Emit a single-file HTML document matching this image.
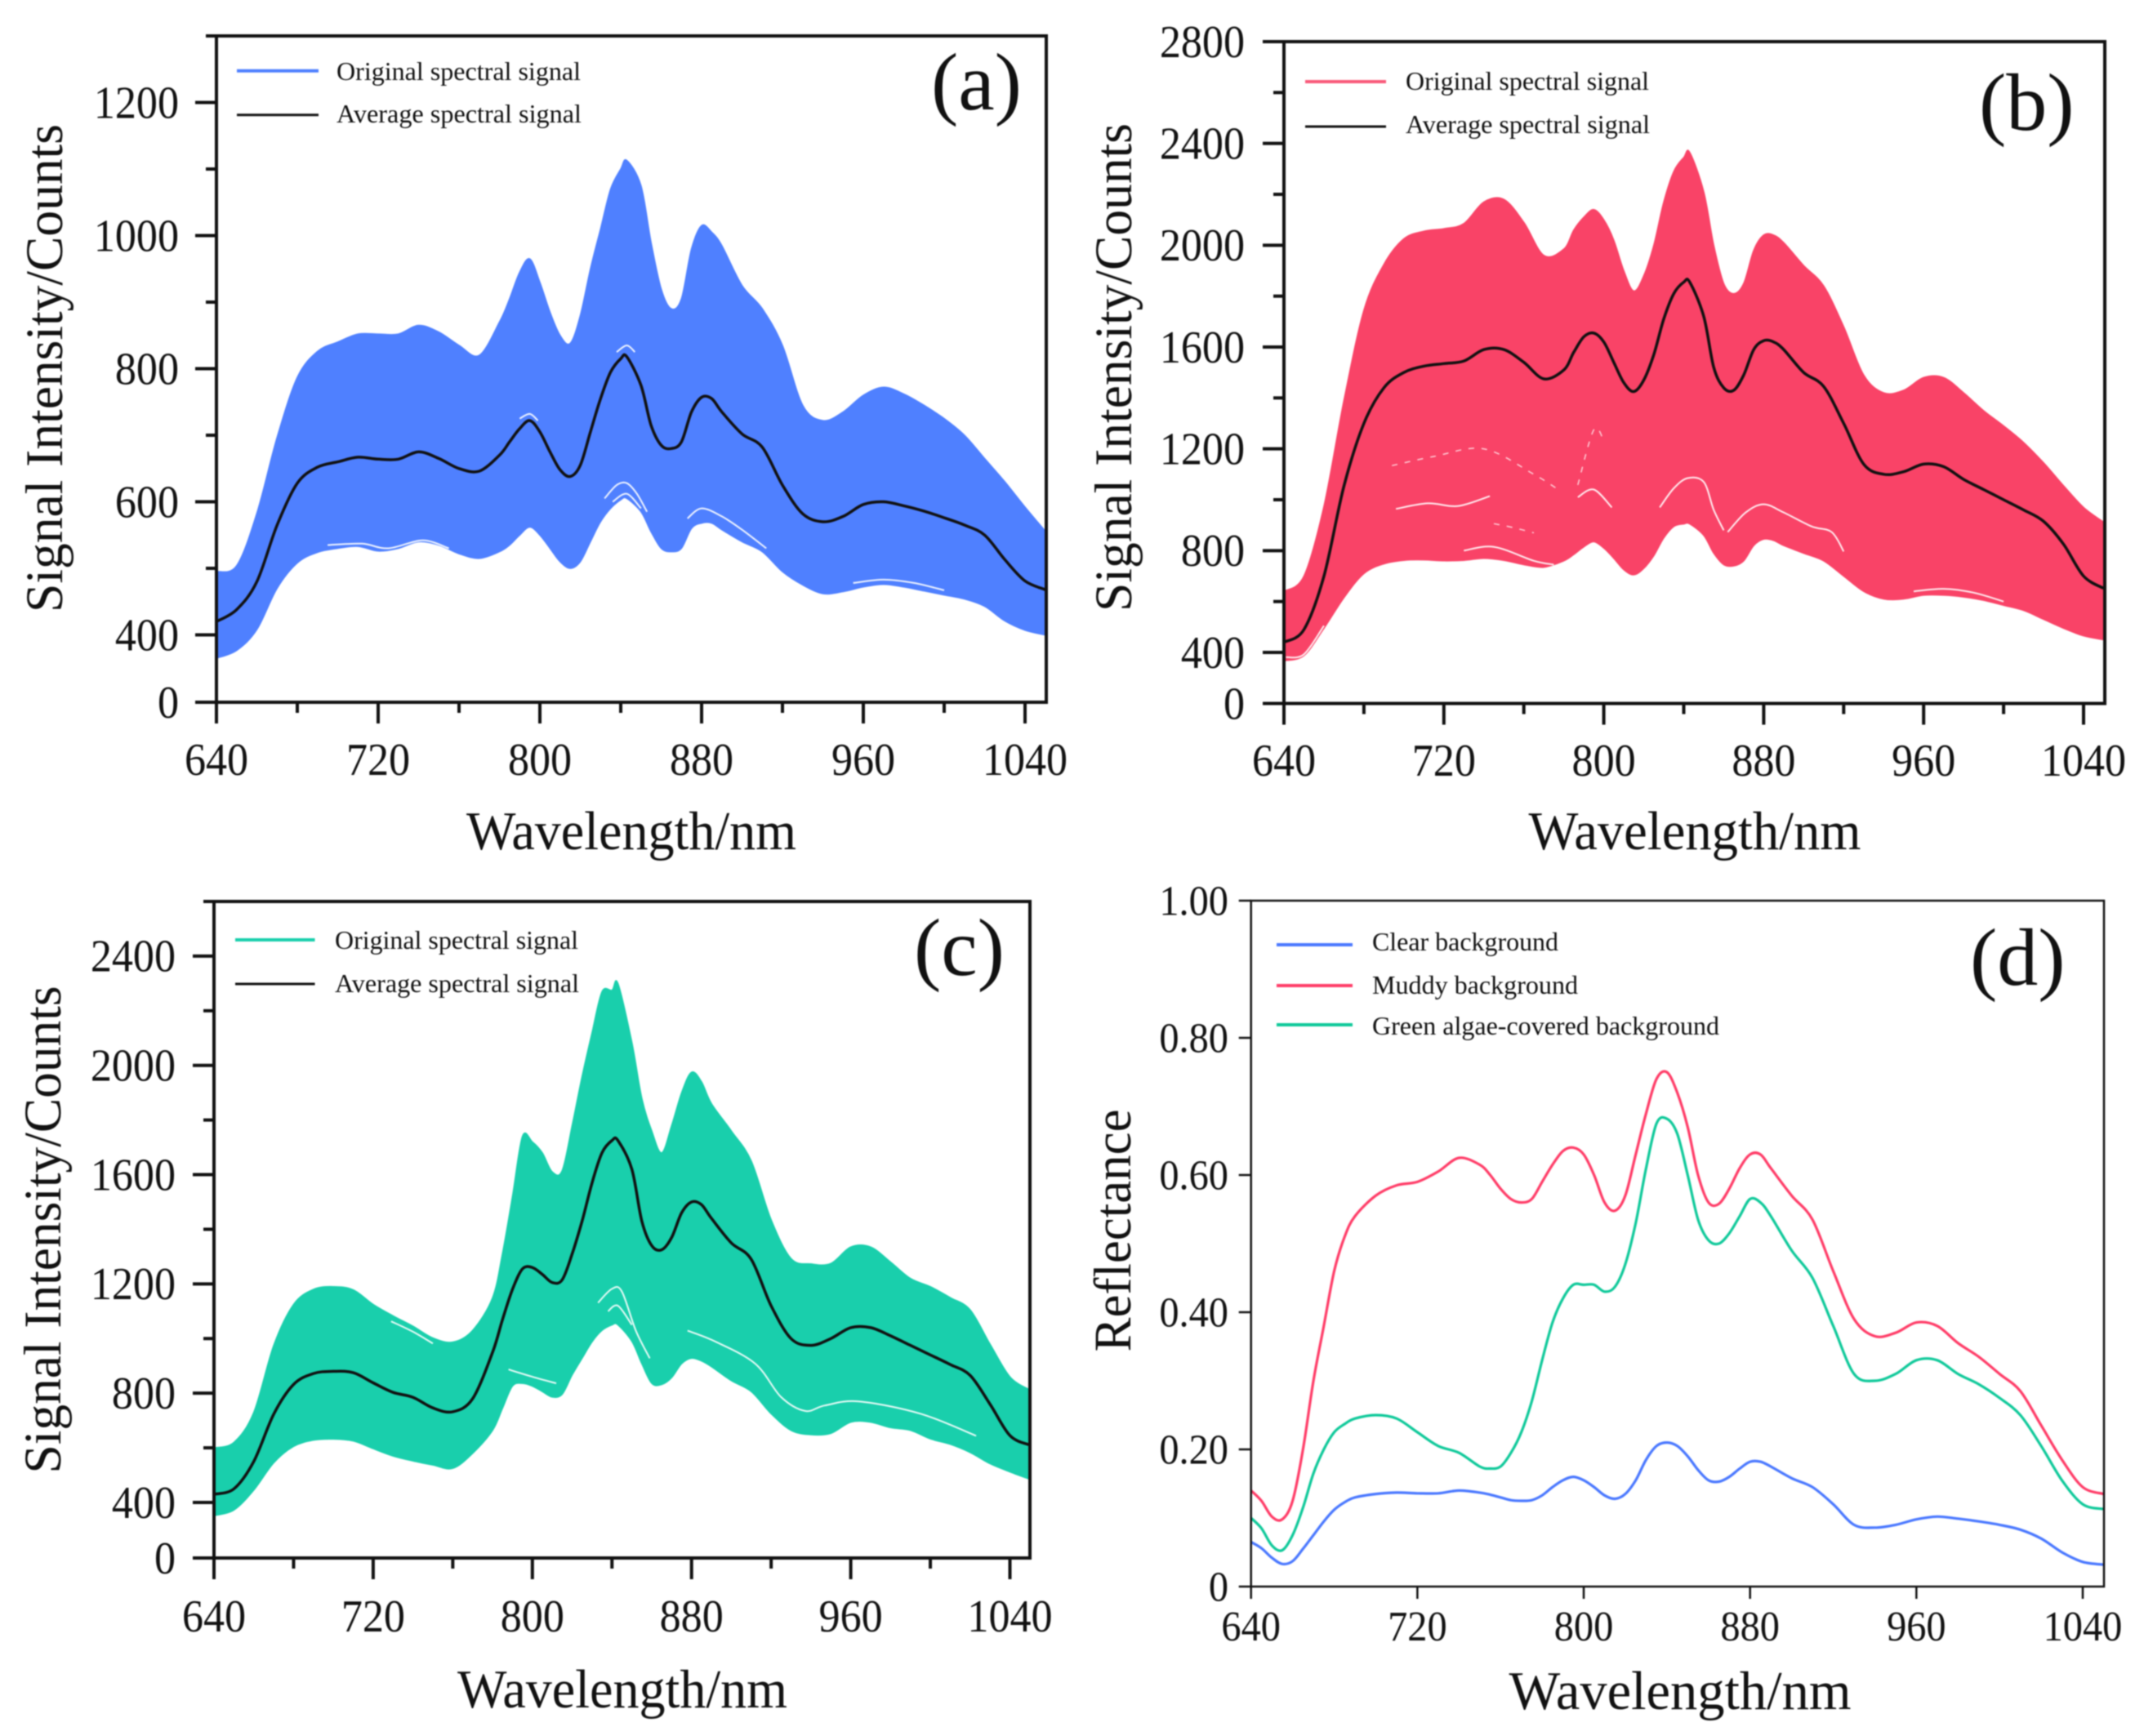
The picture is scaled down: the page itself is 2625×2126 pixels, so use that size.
<!DOCTYPE html>
<html lang="en">
<head>
<meta charset="utf-8">
<title>Spectral signal panels</title>
<style>
html,body{margin:0;padding:0;background:#fff;}
svg{display:block;filter:blur(0.7px);}
text{font-family:"Liberation Serif",serif;fill:#111;}
</style>
</head>
<body>
<svg id="figure" xmlns="http://www.w3.org/2000/svg" width="2625" height="2126" viewBox="0 0 2625 2126">
<rect x="0" y="0" width="2625" height="2126" fill="#fff"/>
</svg>
<script>
// ---------- shared wavelength grids (nm) ----------
const wavelengths = [640,650,660,670,680,690,700,710,720,730,740,750,760,770,780,
 785,790,795,800,805,810,815,820,825,830,835,840,843,
 850,855,860,865,870,875,880,885,890,
 900,910,920,930,940,950,960,970,980,990,1000,1010,1020,1030,1040,1050];
const reflectanceWavelengths = [640,645,650,655,660,665,670,675,680,685,690,
 700,710,720,730,740,750,
 755,760,765,770,775,780,785,790,795,800,805,810,815,820,825,830,835,840,845,850,855,860,865,870,875,880,885,890,
 900,910,920,930,940,950,960,970,980,990,1000,1010,1020,1030,1040,1050];

// ---------- panel (a) ----------
const aUpper = [495,504,583,697,787,826,840,852,852,852,865,855,835,820,870,
 905,945,965,930,885,850,838,880,950,1010,1070,1100,1113,
 1075,990,920,890,905,980,1015,1005,985,
 925,890,835,745,722,735,760,772,762,745,725,700,665,630,592,556];
const aLower = [262,308,408,470,508,524,530,533,526,530,540,535,522,515,525,
 535,550,562,550,530,510,500,510,540,570,590,603,605,
 585,555,530,525,530,560,568,568,558,
 540,525,495,475,462,465,472,476,472,466,460,454,443,421,407,399];
const aMean = [420,438,480,565,628,652,660,667,664,664,675,665,650,646,670,
 690,710,722,705,675,648,638,655,705,755,795,815,818,
 775,715,685,680,690,735,757,755,735,
 702,682,625,582,570,578,596,600,594,586,576,565,550,513,481,468];
const aGaps = [
 {wl:[832,838,843,848,853], v:[605,625,628,612,585]},
 {wl:[836,843,850], v:[600,612,590]},
 {wl:[873,880,890,900,912], v:[575,590,578,558,530]},
 {wl:[695,712,725,742,755], v:[535,537,530,542,530]},
 {wl:[955,970,985,1000], v:[478,483,478,467]},
 {wl:[790,795,799], v:[725,732,722]},
 {wl:[838,843,847], v:[825,835,825]}
];
const aYMajor = [0,400,600,800,1000,1200];
const aYMinor = [500,700,900,1100,1300];

// ---------- panel (b) ----------
const bUpper = [640,700,975,1390,1745,1925,2025,2055,2065,2085,2170,2180,2090,1960,1985,
 2060,2110,2140,2100,2020,1900,1820,1880,2000,2170,2290,2345,2365,
 2210,2000,1850,1810,1850,1980,2040,2040,2010,
 1920,1840,1680,1490,1420,1430,1480,1480,1420,1350,1290,1225,1145,1055,970,912];
const bLower = [335,376,495,615,710,748,762,764,760,762,770,762,745,735,760,
 785,815,835,810,770,725,705,730,780,850,895,905,905,
 860,790,745,740,760,820,845,840,820,
 790,760,700,640,610,610,625,625,618,605,585,565,530,495,465,450];
const bMean = [440,490,700,1053,1300,1440,1500,1525,1535,1545,1590,1590,1540,1475,1510,
 1580,1640,1655,1620,1540,1460,1425,1470,1570,1710,1810,1855,1855,
 1720,1520,1440,1430,1490,1590,1625,1620,1590,
 1500,1445,1300,1140,1100,1110,1140,1130,1080,1040,1000,960,915,825,700,652];
const bGaps = [
 {wl:[696,712,727,743], v:[964,986,975,1014]},
 {wl:[828,835,842,850,855,860], v:[970,1045,1085,1070,960,880]},
 {wl:[862,871,880,890,904,914,920], v:[873,950,982,950,895,873,797]},
 {wl:[955,970,985,1000], v:[640,650,635,600]},
 {wl:[730,745,765,775], v:[800,815,760,745]},
 {wl:[787,795,804], v:[1010,1040,970]},
 {wl:[641,650,660], v:[362,385,505]}
];
const bDashes = [
 {wl:[694,715,740,765,778], v:[1134,1170,1200,1100,1036]},
 {wl:[787,795,800], v:[1058,1275,1232]},
 {wl:[745,755,765], v:[906,890,870]}
];
const bYMajor = [0,400,800,1200,1600,2000,2400,2800];
const bYMinor = [600,1000,1400,1800,2200,2600];

// ---------- panel (c) ----------
const cUpper = [600,620,730,975,1125,1180,1190,1178,1125,1083,1045,1002,987,1030,1150,
 1313,1520,1740,1720,1680,1610,1615,1780,1960,2120,2270,2275,2300,
 2085,1880,1760,1680,1780,1900,1975,1940,1860,
 1760,1650,1435,1293,1273,1275,1335,1335,1280,1220,1190,1150,1105,980,860,812];
const cLower = [305,345,445,545,605,628,632,625,597,570,552,537,525,580,664,
 745,826,836,826,806,786,796,867,928,988,1030,1050,1050,
 990,908,836,832,857,908,928,918,897,
 846,806,725,664,648,653,694,694,674,664,633,613,583,542,512,485];
const cMean = [430,450,550,723,832,872,880,875,838,803,785,746,732,780,950,
 1070,1180,1255,1260,1235,1205,1215,1310,1430,1570,1680,1725,1725,
 1620,1430,1340,1325,1370,1460,1500,1490,1440,
 1350,1290,1120,1000,975,1000,1040,1040,1010,975,940,905,865,760,645,610];
const cGaps = [
 {wl:[833,840,845,852,859], v:[1131,1182,1172,1029,928]},
 {wl:[878,892,912,925,937,947,964,995,1023], v:[1029,989,908,786,735,755,770,725,644]},
 {wl:[788,800,812], v:[887,860,836]},
 {wl:[838,843,850], v:[1100,1120,1050]},
 {wl:[729,740,750], v:[1063,1025,982]}
];
const cYMajor = [0,400,800,1200,1600,2000,2400];
const cYMinor = [600,1000,1400,1800,2200,2600];

// ---------- panel (d) ----------
const dClear = [.065,.056,.042,.033,.037,.055,.075,.095,.112,.123,.13,
 .135,.137,.136,.136,.14,.137,
 .134,.13,.126,.125,.126,.133,.145,.155,.16,.155,.145,.133,.128,.135,.155,.185,.205,.21,.205,.19,.17,.155,.153,.16,.172,.182,.182,.175,
 .158,.145,.12,.09,.086,.09,.098,.102,.099,.095,.09,.083,.07,.05,.036,.032];
const dMuddy = [.14,.125,.102,.098,.125,.2,.3,.38,.46,.51,.54,
 .57,.585,.59,.605,.625,.615,
 .6,.58,.565,.56,.565,.59,.615,.635,.64,.63,.6,.56,.548,.57,.63,.69,.74,.75,.72,.67,.6,.56,.558,.58,.61,.63,.63,.61,
 .57,.535,.46,.39,.365,.37,.385,.38,.355,.335,.31,.285,.235,.185,.145,.135];
const dAlgae = [.10,.085,.06,.053,.075,.115,.165,.2,.225,.237,.245,
 .25,.245,.225,.205,.195,.175,
 .172,.175,.195,.225,.27,.33,.385,.42,.44,.44,.44,.43,.437,.47,.53,.61,.675,.682,.66,.6,.535,.505,.5,.515,.54,.565,.56,.54,
 .49,.45,.38,.31,.3,.31,.33,.33,.31,.295,.275,.25,.205,.155,.12,.113];
const dYMajor = [0,.2,.4,.6,.8,1];
const dYLabels = ['0','0.20','0.40','0.60','0.80','1.00'];

// ---------- shared tick arrays ----------
const xMajor = [640,720,800,880,960,1040];
const xMinor = [680,760,840,920,1000];

const COLORS = {blue:'#4f80ff', red:'#f94367', green:'#19cfac', clearLine:'#4a78ff', muddyLine:'#ff3d68', algaeLine:'#10c99a'};
const svg = document.getElementById('figure');
const NS = 'http://www.w3.org/2000/svg';

function make(parent, tag, attrs, text){
  const el = document.createElementNS(NS, tag);
  for(const k in attrs){ el.setAttribute(k, attrs[k]); }
  if(text !== undefined){ el.textContent = text; }
  parent.appendChild(el);
  return el;
}
function smoothPath(pts, moveFirst){
  let d = (moveFirst ? 'M' : 'L') + pts[0][0].toFixed(1) + ',' + pts[0][1].toFixed(1);
  for(let i=0;i<pts.length-1;i++){
    const p0 = pts[Math.max(0,i-1)], p1 = pts[i], p2 = pts[i+1], p3 = pts[Math.min(pts.length-1,i+2)];
    const c1x = p1[0]+(p2[0]-p0[0])/6, c1y = p1[1]+(p2[1]-p0[1])/6;
    const c2x = p2[0]-(p3[0]-p1[0])/6, c2y = p2[1]-(p3[1]-p1[1])/6;
    d += 'C'+c1x.toFixed(1)+','+c1y.toFixed(1)+' '+c2x.toFixed(1)+','+c2y.toFixed(1)+' '+p2[0].toFixed(1)+','+p2[1].toFixed(1);
  }
  return d;
}
function buildPanel(cfg){
  const g = make(svg,'g',{});
  
  
  const xPerNm = (cfg.x1040 - cfg.x640)/400;
  const xScale = w => cfg.x640 + (w-640)*xPerNm;
  const yScale = cfg.yScale;
  const clipId = 'clip-'+cfg.id;
  const defs = make(g,'defs',{});
  const clip = make(defs,'clipPath',{id:clipId});
  make(clip,'rect',{x:cfg.left,y:cfg.top,width:cfg.right-cfg.left,height:cfg.bottom-cfg.top});
  const plot = make(g,'g',{'clip-path':'url(#'+clipId+')'});
  
  

  // band of original spectra
  if(cfg.upper){
    const up = cfg.wl.map((w,i)=>[xScale(w),yScale(cfg.upper[i])]);
    const lo = cfg.wl.map((w,i)=>[xScale(w),yScale(cfg.lower[i])]).reverse();
    const band = make(plot,'path',{d:smoothPath(up,true)+smoothPath(lo,false)+'Z',fill:cfg.color,stroke:cfg.color,'stroke-width':1.5});
    
    
    (cfg.gaps||[]).forEach(s=>{
      const gap = make(plot,'path',{d:smoothPath(s.wl.map((w,i)=>[xScale(w),yScale(s.v[i])]),true),fill:'none',stroke:'#fff','stroke-width':2,'stroke-opacity':.9});
      
      
    });
    (cfg.dashes||[]).forEach(s=>{
      const dash = make(plot,'path',{d:smoothPath(s.wl.map((w,i)=>[xScale(w),yScale(s.v[i])]),true),fill:'none',stroke:'#fff','stroke-width':1.5,'stroke-dasharray':'7 9','stroke-opacity':.75});
      
      
    });
  }
  // lines
  cfg.lines.forEach(l=>{
    const line = make(plot,'path',{d:smoothPath(cfg.wl.map((w,i)=>[xScale(w),yScale(l.values[i])]),true),fill:'none',stroke:l.color,'stroke-width':l.width,'stroke-linejoin':'round'});
    
    
  });

  // spines
  const sw = cfg.axisWidth;
  const frame = make(g,'rect',{x:cfg.left,y:cfg.top,width:cfg.right-cfg.left,height:cfg.bottom-cfg.top,fill:'none',stroke:'#111','stroke-width':sw});
  
  

  const digitWidth = cfg.tickFont*0.465;
  // ticks
  cfg.yMajor.forEach((v,i)=>{
    const y = yScale(v);
    const t = make(g,'line',{x1:cfg.left-cfg.majorLen,x2:cfg.left,y1:y,y2:y,stroke:'#111','stroke-width':sw});
    
    
    const str = cfg.yLabels ? cfg.yLabels[i] : String(v);
    const lab = make(g,'text',{x:cfg.yLabelRight,y:y+cfg.tickFont*0.335,'text-anchor':'end','font-size':cfg.tickFont,textLength:(str.replace('.','').length+(str.indexOf('.')>=0?0.5:0))*digitWidth,lengthAdjust:'spacingAndGlyphs'}, str);
    
    
  });
  (cfg.yMinor||[]).forEach(v=>{
    const y = yScale(v);
    const t = make(g,'line',{x1:cfg.left-cfg.minorLen,x2:cfg.left,y1:y,y2:y,stroke:'#111','stroke-width':sw});
    
    
  });
  xMajor.forEach(w=>{
    const x = xScale(w);
    const t = make(g,'line',{x1:x,x2:x,y1:cfg.bottom,y2:cfg.bottom+cfg.majorLen,stroke:'#111','stroke-width':sw});
    
    
    const str = String(w);
    const lab = make(g,'text',{x:x,y:cfg.xLabelBase,'text-anchor':'middle','font-size':cfg.tickFont,textLength:str.length*digitWidth,lengthAdjust:'spacingAndGlyphs'}, str);
    
    
  });
  if(cfg.showXMinor){
    xMinor.forEach(w=>{
      const x = xScale(w);
      const t = make(g,'line',{x1:x,x2:x,y1:cfg.bottom,y2:cfg.bottom+cfg.minorLen,stroke:'#111','stroke-width':sw});
      
      
    });
  }

  // axis titles
  const xt = make(g,'text',{x:cfg.xTitle[0],y:cfg.xTitle[1],'text-anchor':'middle','font-size':67,textLength:cfg.xTitle[2],lengthAdjust:'spacingAndGlyphs'},'Wavelength/nm');
  
  
  const yt = make(g,'text',{transform:'translate('+cfg.yTitle[0]+','+cfg.yTitle[1]+') rotate(-90)','text-anchor':'middle','font-size':65,textLength:cfg.yTitle[2],lengthAdjust:'spacingAndGlyphs'},cfg.yTitleText);
  
  

  // panel letter
  const letter = make(g,'text',{x:cfg.letter[0],y:cfg.letter[1],'font-size':100},cfg.letterText);
  
  

  // legend
  cfg.legend.forEach(e=>{
    const row = make(g,'g',{});
    
    
    const sample = make(row,'line',{x1:cfg.legendX[0],x2:cfg.legendX[1],y1:e.y,y2:e.y,stroke:e.color,'stroke-width':e.width});
    
    
    const lab = make(row,'text',{x:cfg.legendX[2],y:e.base,'font-size':32,fill:'#222',textLength:e.len,lengthAdjust:'spacingAndGlyphs'},e.text);
    
    
  });
}
function breakScale(y0,y400,yTopPx,topVal){
  return v => v<=400 ? y0+(y400-y0)*v/400 : y400+(yTopPx-y400)*(v-400)/(topVal-400);
}
const ORIGINAL='Original spectral signal', AVERAGE='Average spectral signal', YSIG='Signal Intensity/Counts';

buildPanel({id:'a',wl:wavelengths,upper:aUpper,lower:aLower,gaps:aGaps,color:COLORS.blue,
  lines:[{values:aMean,color:'#111',width:3.5,name:'average-signal-line-a'}],
  left:265,right:1281,top:44,bottom:860,x640:265,x1040:1255,
  yScale:breakScale(860,777.5,44,1300),yMajor:aYMajor,yMinor:aYMinor,showXMinor:true,
  axisWidth:4,majorLen:26,minorLen:13,tickFont:56,yLabelRight:219,xLabelBase:949,
  xTitle:[773,1040,404],yTitle:[76,451,598],yTitleText:YSIG,letter:[1140,134],letterText:'(a)',
  legendX:[290,390,412],legend:[
   {y:86.7,base:98,color:COLORS.blue,width:4,text:ORIGINAL,len:299},
   {y:140.7,base:150,color:'#111',width:3,text:AVERAGE,len:300}]});

buildPanel({id:'b',wl:wavelengths,upper:bUpper,lower:bLower,gaps:bGaps,dashes:bDashes,color:COLORS.red,
  lines:[{values:bMean,color:'#111',width:3.5,name:'average-signal-line-b'}],
  left:1572,right:2577,top:51,bottom:861.5,x640:1572,x1040:2551,
  yScale:breakScale(861.5,799,51,2800),yMajor:bYMajor,yMinor:bYMinor,showXMinor:true,
  axisWidth:4,majorLen:26,minorLen:13,tickFont:56,yLabelRight:1524,xLabelBase:950,
  xTitle:[2075,1040,407],yTitle:[1385,450,598],yTitleText:YSIG,letter:[2423,159],letterText:'(b)',
  legendX:[1598,1697,1721],legend:[
   {y:100,base:110,color:'#f9597a',width:4,text:ORIGINAL,len:298},
   {y:155,base:163,color:'#111',width:3,text:AVERAGE,len:299}]});

buildPanel({id:'c',wl:wavelengths,upper:cUpper,lower:cLower,gaps:cGaps,color:COLORS.green,
  lines:[{values:cMean,color:'#111',width:3.5,name:'average-signal-line-c'}],
  left:262,right:1261,top:1104,bottom:1908,x640:262,x1040:1236.5,
  yScale:breakScale(1908,1840,1104,2600),yMajor:cYMajor,yMinor:cYMinor,showXMinor:true,
  axisWidth:4,majorLen:26,minorLen:13,tickFont:56,yLabelRight:215,xLabelBase:1998,
  xTitle:[762,2091,404],yTitle:[74,1506,597],yTitleText:YSIG,letter:[1119,1194],letterText:'(c)',
  legendX:[288,385.5,410],legend:[
   {y:1151,base:1162,color:COLORS.green,width:4,text:ORIGINAL,len:298},
   {y:1205,base:1215,color:'#111',width:3,text:AVERAGE,len:299}]});

buildPanel({id:'d',wl:reflectanceWavelengths,
  lines:[
   {values:dClear,color:COLORS.clearLine,width:3.2,name:'clear-background-line'},
   {values:dMuddy,color:COLORS.muddyLine,width:3.2,name:'muddy-background-line'},
   {values:dAlgae,color:COLORS.algaeLine,width:3.2,name:'green-algae-background-line'}],
  left:1531.7,right:2576,top:1103,bottom:1943,x640:1531.7,x1040:2550,
  yScale:v=>1943-v*840,yMajor:dYMajor,yLabels:dYLabels,showXMinor:false,
  axisWidth:2.5,majorLen:15,minorLen:8,tickFont:52,yLabelRight:1504,xLabelBase:2009,
  xTitle:[2057,2093,419],yTitle:[1384,1507,297],yTitleText:'Reflectance',letter:[2412,1206],letterText:'(d)',
  legendX:[1563,1656,1680],legend:[
   {y:1157,base:1164,color:COLORS.clearLine,width:4,text:'Clear background',len:228},
   {y:1207,base:1217,color:COLORS.muddyLine,width:4,text:'Muddy background',len:252},
   {y:1255,base:1267,color:COLORS.algaeLine,width:4,text:'Green algae-covered background',len:425}]});
</script>
</body>
</html>
